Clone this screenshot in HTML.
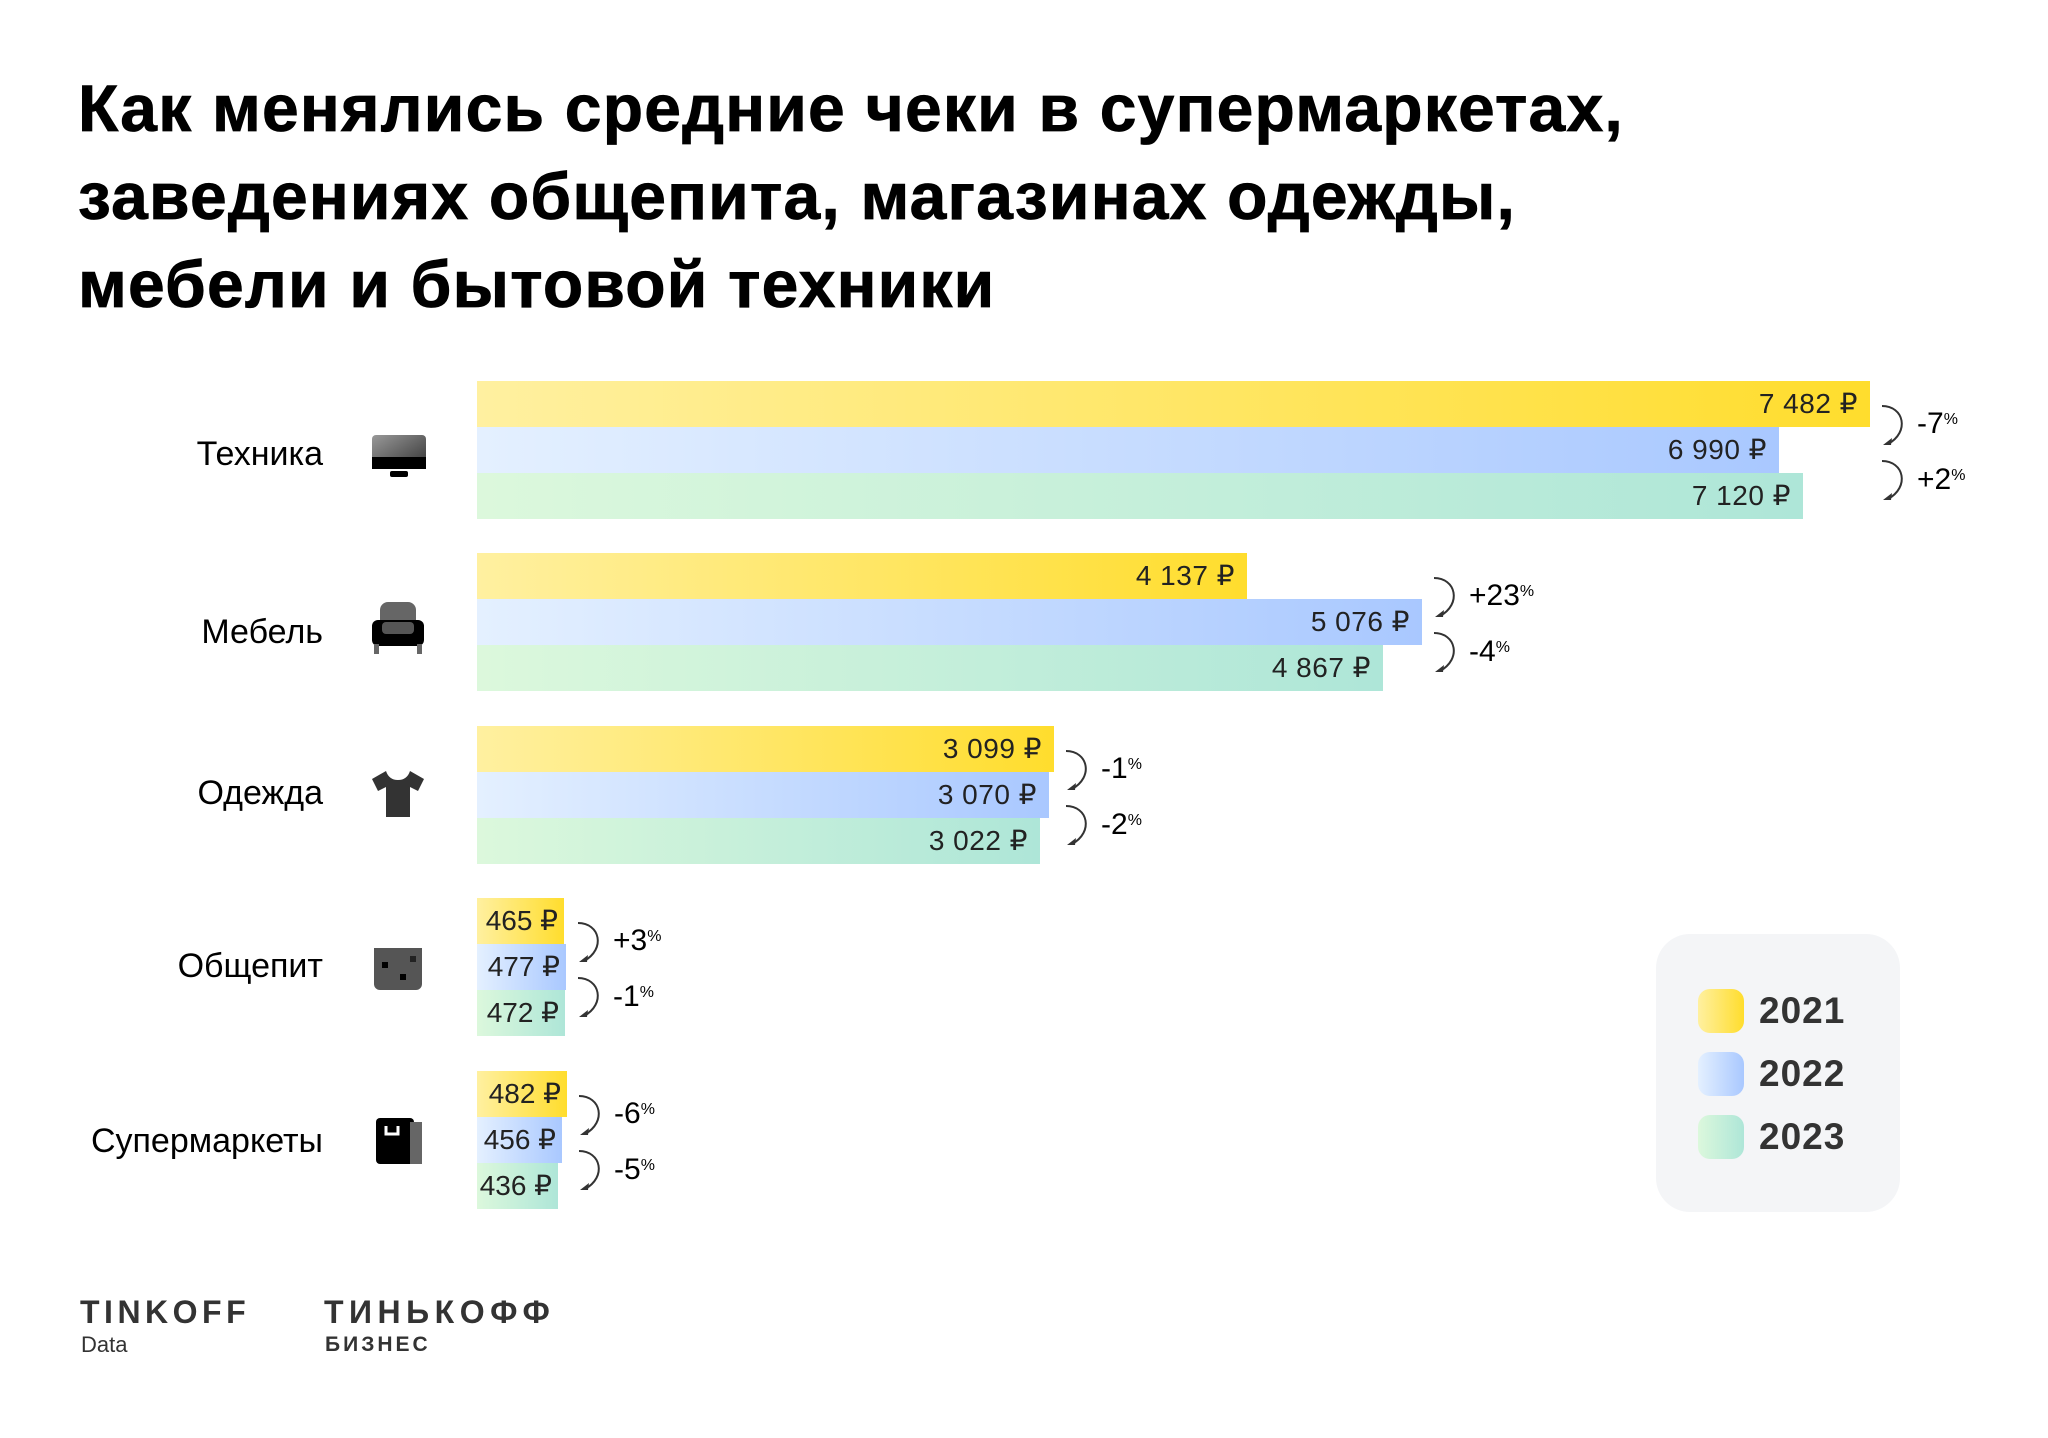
<!DOCTYPE html>
<html><head><meta charset="utf-8"><style>
body{margin:0;width:2048px;height:1438px;background:#fff;position:relative;overflow:hidden;font-family:"Liberation Sans",sans-serif;color:#000}
.t{position:absolute;left:78px;top:64px;font-size:66px;font-weight:bold;line-height:88px;letter-spacing:1.2px;-webkit-text-stroke:0.8px #000}
.b{position:absolute;left:477px;height:46px;box-sizing:border-box;text-align:right;padding-right:12px;font-size:28px;line-height:46px;color:#222;letter-spacing:0.5px}
.y{background:linear-gradient(90deg,#fff0a0,#ffdd2d)}
.u{background:linear-gradient(90deg,#e4f0ff,#a9c8ff)}
.g{background:linear-gradient(90deg,#dcf8dc,#aee6d8)}
.l{position:absolute;right:1725px;font-size:34px;line-height:40px;text-align:right;white-space:nowrap}
.p{position:absolute;font-size:30px;line-height:34px}
.p sup{font-size:16px;vertical-align:top;position:relative;top:-4px}
.a{position:absolute;width:30px;height:44px}
.ic{position:absolute;left:370px;width:56px;height:56px}
.lg{position:absolute;left:1656px;top:934px;width:244px;height:278px;background:#f4f5f7;border-radius:34px}
.sw{position:absolute;left:42px;width:46px;height:44px;border-radius:12px}
.lt{position:absolute;left:103px;font-size:37px;font-weight:bold;color:#333;line-height:44px;letter-spacing:1px}
</style></head><body>
<div class="t">Как менялись средние чеки в супермаркетах,<br>заведениях общепита, магазинах одежды,<br>мебели и бытовой техники</div>

<!-- Техника -->
<div class="l" style="top:434px">Техника</div>
<svg class="ic" style="top:427px" viewBox="0 0 56 56"><defs><linearGradient id="gr" x1="0" y1="0" x2="1" y2="1"><stop offset="0" stop-color="#999"/><stop offset="1" stop-color="#333"/></linearGradient></defs><rect x="2" y="8" width="54" height="34" rx="4" fill="url(#gr)"/><rect x="2" y="30" width="54" height="12" fill="#000"/><rect x="20" y="44" width="18" height="6" rx="2" fill="#000"/></svg>
<div class="b y" style="top:381px;width:1393px">7 482 ₽</div>
<div class="b u" style="top:427px;width:1302px">6 990 ₽</div>
<div class="b g" style="top:473px;width:1326px">7 120 ₽</div>
<svg class="a" style="left:1880px;top:404px" viewBox="0 0 30 44"><path d="M2 2C24 2 30 28 8 40" fill="none" stroke="#333" stroke-width="2"/><path d="M3 41l9-7-1 7z" fill="#333"/></svg>
<svg class="a" style="left:1880px;top:459px" viewBox="0 0 30 44"><path d="M2 2C24 2 30 28 8 40" fill="none" stroke="#333" stroke-width="2"/><path d="M3 41l9-7-1 7z" fill="#333"/></svg>
<div class="p" style="left:1917px;top:407px">-7<sup>%</sup></div>
<div class="p" style="left:1917px;top:463px">+2<sup>%</sup></div>

<!-- Мебель -->
<div class="l" style="top:612px">Мебель</div>
<svg class="ic" style="top:600px" viewBox="0 0 56 56"><rect x="10" y="2" width="36" height="30" rx="8" fill="#666"/><rect x="2" y="20" width="52" height="26" rx="6" fill="#000"/><rect x="12" y="22" width="32" height="12" rx="4" fill="#555"/><rect x="4" y="44" width="5" height="10" fill="#666"/><rect x="47" y="44" width="5" height="10" fill="#666"/></svg>
<div class="b y" style="top:553px;width:770px">4 137 ₽</div>
<div class="b u" style="top:599px;width:945px">5 076 ₽</div>
<div class="b g" style="top:645px;width:906px">4 867 ₽</div>
<svg class="a" style="left:1432px;top:576px" viewBox="0 0 30 44"><path d="M2 2C24 2 30 28 8 40" fill="none" stroke="#333" stroke-width="2"/><path d="M3 41l9-7-1 7z" fill="#333"/></svg>
<svg class="a" style="left:1432px;top:631px" viewBox="0 0 30 44"><path d="M2 2C24 2 30 28 8 40" fill="none" stroke="#333" stroke-width="2"/><path d="M3 41l9-7-1 7z" fill="#333"/></svg>
<div class="p" style="left:1469px;top:579px">+23<sup>%</sup></div>
<div class="p" style="left:1469px;top:635px">-4<sup>%</sup></div>

<!-- Одежда -->
<div class="l" style="top:773px">Одежда</div>
<svg class="ic" style="top:765px" viewBox="0 0 56 56"><path d="M16 6L2 14l6 12 8-4v30h24V22l8 4 6-12-14-8c-2 6-6 9-12 9s-10-3-12-9z" fill="#333"/></svg>
<div class="b y" style="top:726px;width:577px">3 099 ₽</div>
<div class="b u" style="top:772px;width:572px">3 070 ₽</div>
<div class="b g" style="top:818px;width:563px">3 022 ₽</div>
<svg class="a" style="left:1064px;top:749px" viewBox="0 0 30 44"><path d="M2 2C24 2 30 28 8 40" fill="none" stroke="#333" stroke-width="2"/><path d="M3 41l9-7-1 7z" fill="#333"/></svg>
<svg class="a" style="left:1064px;top:804px" viewBox="0 0 30 44"><path d="M2 2C24 2 30 28 8 40" fill="none" stroke="#333" stroke-width="2"/><path d="M3 41l9-7-1 7z" fill="#333"/></svg>
<div class="p" style="left:1101px;top:752px">-1<sup>%</sup></div>
<div class="p" style="left:1101px;top:808px">-2<sup>%</sup></div>

<!-- Общепит -->
<div class="l" style="top:946px">Общепит</div>
<svg class="ic" style="top:940px" viewBox="0 0 56 56"><path d="M4 8h48v36a6 6 0 0 1-6 6H10a6 6 0 0 1-6-6z" fill="#555"/><rect x="12" y="22" width="6" height="6" fill="#000"/><rect x="30" y="34" width="6" height="6" fill="#000"/><rect x="40" y="16" width="6" height="6" fill="#222"/></svg>
<div class="b y" style="top:898px;width:87px;padding-right:6px;letter-spacing:0">465 ₽</div>
<div class="b u" style="top:944px;width:89px;padding-right:6px;letter-spacing:0">477 ₽</div>
<div class="b g" style="top:990px;width:88px;padding-right:6px;letter-spacing:0">472 ₽</div>
<svg class="a" style="left:576px;top:921px" viewBox="0 0 30 44"><path d="M2 2C24 2 30 28 8 40" fill="none" stroke="#333" stroke-width="2"/><path d="M3 41l9-7-1 7z" fill="#333"/></svg>
<svg class="a" style="left:576px;top:976px" viewBox="0 0 30 44"><path d="M2 2C24 2 30 28 8 40" fill="none" stroke="#333" stroke-width="2"/><path d="M3 41l9-7-1 7z" fill="#333"/></svg>
<div class="p" style="left:613px;top:924px">+3<sup>%</sup></div>
<div class="p" style="left:613px;top:980px">-1<sup>%</sup></div>

<!-- Супермаркеты -->
<div class="l" style="top:1121px">Супермаркеты</div>
<svg class="ic" style="top:1112px" viewBox="0 0 56 56"><rect x="6" y="6" width="38" height="46" rx="4" fill="#000"/><rect x="40" y="10" width="12" height="42" fill="#666"/><path d="M16 14v8h12v-8" fill="none" stroke="#fff" stroke-width="3"/></svg>
<div class="b y" style="top:1071px;width:90px;padding-right:6px;letter-spacing:0">482 ₽</div>
<div class="b u" style="top:1117px;width:85px;padding-right:6px;letter-spacing:0">456 ₽</div>
<div class="b g" style="top:1163px;width:81px;padding-right:6px;letter-spacing:0">436 ₽</div>
<svg class="a" style="left:577px;top:1094px" viewBox="0 0 30 44"><path d="M2 2C24 2 30 28 8 40" fill="none" stroke="#333" stroke-width="2"/><path d="M3 41l9-7-1 7z" fill="#333"/></svg>
<svg class="a" style="left:577px;top:1149px" viewBox="0 0 30 44"><path d="M2 2C24 2 30 28 8 40" fill="none" stroke="#333" stroke-width="2"/><path d="M3 41l9-7-1 7z" fill="#333"/></svg>
<div class="p" style="left:614px;top:1097px">-6<sup>%</sup></div>
<div class="p" style="left:614px;top:1153px">-5<sup>%</sup></div>

<!-- Legend -->
<div class="lg">
<div class="sw y" style="top:55px"></div><div class="lt" style="top:55px">2021</div>
<div class="sw u" style="top:118px"></div><div class="lt" style="top:118px">2022</div>
<div class="sw g" style="top:181px"></div><div class="lt" style="top:181px">2023</div>
</div>

<!-- Footer -->
<div style="position:absolute;left:80px;top:1294px;font-size:32px;font-weight:900;color:#333;letter-spacing:4.5px">TINKOFF</div>
<div style="position:absolute;left:81px;top:1332px;font-size:22px;color:#333">Data</div>
<div style="position:absolute;left:324px;top:1294px;font-size:32px;font-weight:900;color:#333;letter-spacing:5.5px">ТИНЬКОФФ</div>
<div style="position:absolute;left:325px;top:1333px;font-size:21px;font-weight:900;color:#333;letter-spacing:3px">БИЗНЕС</div>
</body></html>
